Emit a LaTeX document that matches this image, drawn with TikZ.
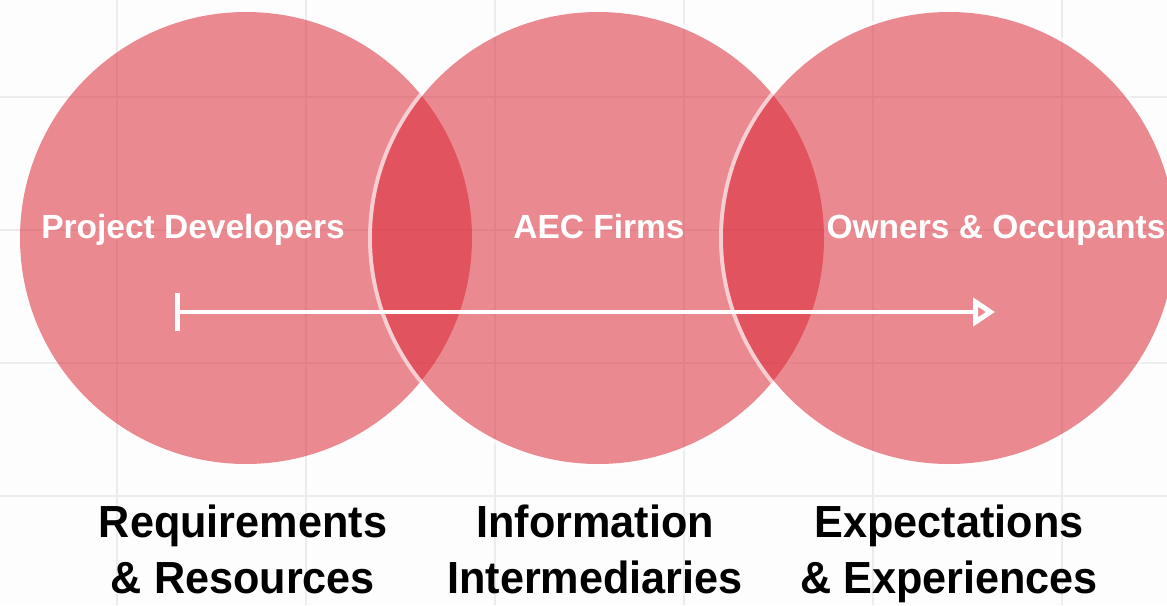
\documentclass[tikz,border=0pt]{standalone}
\usepackage{fontspec}
\setmainfont{Liberation Sans}
\newfontfamily\captionfont[FakeStretch=0.96]{Liberation Sans}
\usetikzlibrary{arrows.meta}
\definecolor{bg}{RGB}{253,253,253}
\definecolor{gridline}{RGB}{236,236,236}
\definecolor{venn}{RGB}{219,42,55}
\begin{document}
\begin{tikzpicture}[x=1pt,y=-1pt,
  set/.style={circle, minimum size=452pt, inner sep=0pt, fill=venn, fill opacity=0.55},
  rim/.style={draw=white, draw opacity=0.6, line width=4pt},
  role/.style={text=white, font=\bfseries\fontsize{33.5}{40}\selectfont, anchor=base, inner sep=0pt},
  aspect/.style={text=black, font=\captionfont\bfseries\fontsize{45}{56}\selectfont, align=center, anchor=base, inner sep=0pt},
  flow/.style={white, line width=4pt, {Bar[width=38pt,line width=5pt]}-{Triangle[open,length=22pt,width=28pt,line width=5pt]}},
  gridrule/.style={gridline, line width=2pt}
]
% canvas and light background grid
\fill[bg] (0,0) rectangle (1167,605);
\useasboundingbox (0,0) rectangle (1167,605);
\clip (0,0) rectangle (1167,605);
\foreach \gx in {117,306,495,684,873,1062} \draw[gridrule] (\gx,0) -- (\gx,605);
\foreach \gy in {97,230,363,496} \draw[gridrule] (0,\gy) -- (1167,\gy);

% centres of the three sets
\coordinate (devc) at (246,238);
\coordinate (aecc) at (598,238);
\coordinate (ownc) at (949,238);

% the three overlapping sets; a pale rim just outside each later set
\node[set] (dev) at (devc) {};
\draw[rim] (aecc) circle[radius=228];
\node[set] (aec) at (aecc) {};
\draw[rim] (ownc) circle[radius=228];
\node[set] (own) at (ownc) {};

% set names
\node[role] (devname) at (193,238) {Project Developers};
\node[role] (aecname) at (599,238) {AEC Firms};
\node[role] (ownname) at (996,238) {Owners \& Occupants};

% flow from developers to occupants
\coordinate (flowstart) at (175,312);
\coordinate (flowend) at (995,312);
\draw[flow] (flowstart) -- (flowend);

% descriptions below the sets
\node[aspect] (devrole) at (243,593) {Requirements\\\& Resources};
\node[aspect] (aecrole) at (595,593) {Information\\Intermediaries};
\node[aspect] (ownrole) at (949,593) {Expectations\\\& Experiences};
\end{tikzpicture}
\end{document}
